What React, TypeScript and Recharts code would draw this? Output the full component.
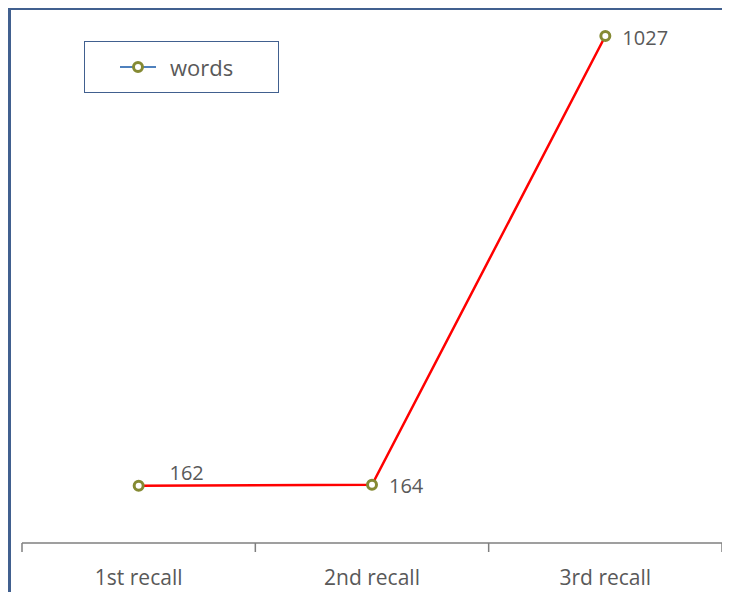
import { LineChart, Line, XAxis, YAxis, LabelList } from "recharts";

const categories = ["1st recall", "2nd recall", "3rd recall"];
const words = [162, 164, 1027];
const yDomain = [52, 1077];
const boundaryTicks = [0, 1, 2, 3];

const data = categories.map((name, i) => ({ name, pos: i + 0.5, words: words[i] }));
const allTicks = [...boundaryTicks, ...data.map((d) => d.pos)].sort((a, b) => a - b);

const FONT = "'Open Sans', 'DejaVu Sans', sans-serif";
const TEXT = "#595959";
const OLIVE = "#858a33";

function AxisTick(props: any) {
  const { x, y, payload } = props;
  const v = payload.value;
  if (Number.isInteger(v)) {
    return <line x1={x} x2={x} y1={y - 8} y2={y + 1} stroke="#7f7f7f" strokeWidth={1.5} />;
  }
  const d = data.find((p) => p.pos === v);
  return (
    <text x={x} y={y + 34} textAnchor="middle" fill={TEXT} fontSize={21} fontFamily={FONT}>
      {d ? d.name : ""}
    </text>
  );
}

function PointLabel(props: any) {
  const { x, y, value, index } = props;
  const first = index === 0;
  return (
    <text
      x={first ? x + 48 : x + 17}
      y={first ? y - 13 : y + 1}
      textAnchor={first ? "middle" : "start"}
      dominantBaseline="central"
      fill={TEXT}
      fontSize={20}
      fontFamily={FONT}
    >
      {value}
    </text>
  );
}

function LegendBox() {
  return (
    <div
      style={{
        position: "absolute",
        left: 84,
        top: 41,
        width: 195,
        height: 52,
        boxSizing: "border-box",
        border: "1.5px solid #41608f",
        display: "flex",
        alignItems: "center",
        fontFamily: FONT,
        fontSize: 22,
        color: TEXT,
        background: "#fff",
      }}
    >
      <svg width={40} height={20} style={{ marginLeft: 33 }}>
        <line x1={2} x2={38} y1={10} y2={10} stroke="#4f81bd" strokeWidth={2} />
        <circle cx={20} cy={10} r={4.5} fill="#fff" stroke={OLIVE} strokeWidth={3} />
      </svg>
      <span style={{ marginLeft: 12 }}>words</span>
    </div>
  );
}

export default function App() {
  return (
    <div style={{ position: "relative", margin: -8, width: 730, height: 600, overflow: "hidden", background: "#fff" }}>
      <div
        style={{
          position: "absolute",
          left: 8,
          top: 7,
          width: 900,
          height: 900,
          border: "3.5px solid #41608f",
        }}
      />
      <div style={{ position: "absolute", left: 8, top: 8 }}>
        <LineChart width={722} height={592} data={data} margin={{ top: 2, right: 8, left: 14, bottom: 0 }}>
          <XAxis
            dataKey="pos"
            type="number"
            domain={[0, 3]}
            ticks={allTicks}
            interval={0}
            height={57}
            tickLine={false}
            tick={<AxisTick />}
            axisLine={{ stroke: "#7f7f7f", strokeWidth: 1.5 }}
          />
          <YAxis hide domain={yDomain} />
          <Line
            dataKey="words"
            stroke="#ff0000"
            strokeWidth={2.5}
            isAnimationActive={false}
            dot={{ r: 4.5, fill: "#fff", stroke: OLIVE, strokeWidth: 3 }}
            activeDot={false}
          >
            <LabelList dataKey="words" content={<PointLabel />} />
          </Line>
        </LineChart>
      </div>
      <LegendBox />
    </div>
  );
}
